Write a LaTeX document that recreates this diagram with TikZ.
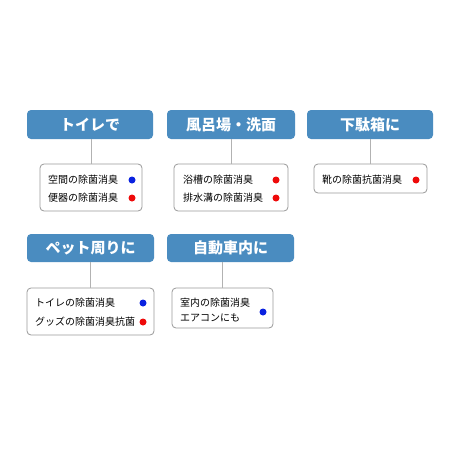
\documentclass[tikz,border=0pt]{standalone}
\usepackage{fontspec}
\newfontfamily\jp{Noto Sans CJK JP}
\definecolor{headblue}{HTML}{4A8CC0}
\definecolor{dotblue}{HTML}{0A22E0}
\definecolor{dotred}{HTML}{EE0A0A}
\tikzset{
  head/.style={fill=headblue, rounded corners=4pt, text=white, font=\jp\bfseries\fontsize{15}{18}\selectfont, minimum height=29pt, inner sep=0pt},
  list/.style={draw=gray!80, line width=0.8pt, rounded corners=4pt, fill=white, inner sep=0pt},
  item/.style={anchor=west, inner sep=0pt, font=\jp\fontsize{10}{12}\selectfont},
  bluedot/.style={circle, fill=dotblue, minimum size=7pt, inner sep=0pt},
  reddot/.style={circle, fill=dotred, minimum size=7pt, inner sep=0pt},
  link/.style={draw=gray!60, line width=1pt}
}

\begin{document}
\begin{tikzpicture}[x=1pt,y=-1pt]
\useasboundingbox[fill=white] (0,0) rectangle (460,460);
% row 1
\node[head, minimum width=126pt] (toilet) at (90,124.5) {トイレで};
\node[head, minimum width=128pt] (bath) at (231,124.5) {風呂場・洗面};
\node[head, minimum width=126pt] (shoe) at (370,124.5) {下駄箱に};
\node[list, minimum width=102pt, minimum height=47pt] (toiletlist) at (91,187.5) {};
\node[list, minimum width=114pt, minimum height=47pt] (bathlist) at (231,187.5) {};
\node[list, minimum width=113pt, minimum height=29pt] (shoelist) at (370.5,178.5) {};
\draw[link] (toiletlist.north) -- (toiletlist.north |- toilet.south);
\draw[link] (bathlist.north) -- (bathlist.north |- bath.south);
\draw[link] (shoelist.north) -- (shoelist.north |- shoe.south);
\node[item] (t1) at (48,180) {空間の除菌消臭}; \node[bluedot] (t1d) at (132,180) {};
\node[item] (t2) at (48,198) {便器の除菌消臭}; \node[reddot] (t2d) at (132,198) {};
\node[item] (b1) at (183,180) {浴槽の除菌消臭}; \node[reddot] (b1d) at (276,180) {};
\node[item] (b2) at (183,198) {排水溝の除菌消臭}; \node[reddot] (b2d) at (276,198) {};
\node[item] (s1) at (322,180) {靴の除菌抗菌消臭}; \node[reddot] (s1d) at (416,180) {};
% row 2
\node[head, minimum width=127pt, minimum height=28pt] (pet) at (90.5,248) {ペット周りに};
\node[head, minimum width=127pt, minimum height=28pt] (car) at (230.5,248) {自動車内に};
\node[list, minimum width=127pt, minimum height=47pt] (petlist) at (90.5,311.5) {};
\node[list, minimum width=101pt, minimum height=40pt] (carlist) at (222.5,308) {};
\draw[link] (petlist.north) -- (petlist.north |- pet.south);
\draw[link] (carlist.north) -- (carlist.north |- car.south);
\node[item] (p1) at (35,303) {トイレの除菌消臭}; \node[bluedot] (p1d) at (143,303) {};
\node[item] (p2) at (35,322) {グッズの除菌消臭抗菌}; \node[reddot] (p2d) at (143,322) {};
\node[item] (c1) at (180,303) {室内の除菌消臭};
\node[item] (c2) at (180,318) {エアコンにも}; \node[bluedot] (c1d) at (263,312) {};
\end{tikzpicture}
\end{document}
